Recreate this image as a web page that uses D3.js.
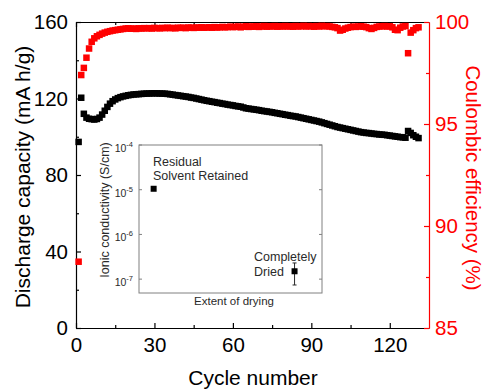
<!DOCTYPE html>
<html>
<head>
<meta charset="utf-8">
<script src="https://cdn.jsdelivr.net/npm/d3@7"></script>
<style>
  html, body { margin: 0; padding: 0; background: #fff; }
  svg { display: block; font-family: "Liberation Sans", Arial, sans-serif; }
</style>
</head>
<body>
<svg id="chart" width="484" height="390"></svg>
<script>
// Cycling data: discharge capacity (mA h/g) and coulombic efficiency (%) per cycle
const capacity = [
  97.3, 120.4, 112.0, 110.0, 109.4, 109.2, 109.0, 109.3, 110.0, 111.6,
  113.6, 115.6, 117.3, 118.6, 119.5, 120.2, 120.7, 121.1, 121.4, 121.7,
  121.9, 122.1, 122.2, 122.3, 122.4, 122.5, 122.6, 122.6, 122.7, 122.7,
  122.7, 122.6, 122.6, 122.5, 122.4, 122.2, 122.0, 121.8, 121.6, 121.4,
  121.2, 121.0, 120.8, 120.5, 120.3, 120.0, 119.7, 119.4, 119.1, 118.8,
  118.6, 118.3, 118.1, 117.8, 117.6, 117.3, 117.1, 116.8, 116.6, 116.4,
  116.1, 115.9, 115.7, 115.3, 114.9, 114.7, 114.5, 114.3, 114.1, 113.9,
  113.6, 113.4, 113.2, 113.0, 112.8, 112.5, 112.3, 112.0, 111.8, 111.5,
  111.3, 111.0, 110.8, 110.6, 110.3, 110.0, 109.7, 109.4, 109.1, 108.8,
  108.5, 108.2, 107.9, 107.5, 107.1, 106.7, 106.3, 105.9, 105.5, 105.1,
  104.8, 104.5, 104.2, 103.9, 103.6, 103.3, 103.0, 102.7, 102.4, 102.2,
  102.0, 101.9, 101.7, 101.5, 101.4, 101.2, 101.1, 101.0, 100.8, 100.6,
  100.4, 100.2, 100.0, 99.8, 99.7, 99.5, 103.0, 102.0, 100.8, 100.0,
  99.3
];
const efficiency = [
  88.25, 97.4, 97.75, 98.25, 98.7, 99.03, 99.2, 99.3, 99.37, 99.43,
  99.48, 99.52, 99.55, 99.58, 99.6, 99.62, 99.64, 99.66, 99.68, 99.69,
  99.67, 99.68, 99.66, 99.69, 99.68, 99.70, 99.69, 99.70, 99.68, 99.71,
  99.70, 99.69, 99.71, 99.70, 99.72, 99.70, 99.71, 99.69, 99.72, 99.71,
  99.72, 99.70, 99.73, 99.72, 99.71, 99.73, 99.72, 99.74, 99.72, 99.73,
  99.74, 99.72, 99.75, 99.73, 99.74, 99.76, 99.74, 99.75, 99.77, 99.75,
  99.76, 99.78, 99.74, 99.77, 99.79, 99.76, 99.78, 99.77, 99.79, 99.76,
  99.78, 99.80, 99.77, 99.79, 99.78, 99.80, 99.77, 99.79, 99.78, 99.80,
  99.78, 99.79, 99.77, 99.80, 99.78, 99.79, 99.81, 99.78, 99.80, 99.79,
  99.77, 99.80, 99.78, 99.81, 99.79, 99.80, 99.78, 99.76, 99.74, 99.70,
  99.58, 99.62, 99.68, 99.72, 99.75, 99.77, 99.76, 99.78, 99.79, 99.77,
  99.75, 99.70, 99.66, 99.71, 99.76, 99.78, 99.79, 99.80, 99.78, 99.79,
  99.74, 99.62, 99.60, 99.72, 99.78, 99.80, 98.47, 99.48, 99.60, 99.70,
  99.74
];
const cycles = capacity.map((_, i) => i + 1);

const cycleTicks = [0, 30, 60, 90, 120];
const cycleMinor = [15, 45, 75, 105];
const capTicks = [0, 40, 80, 120, 160];
const capMinor = [20, 60, 100, 140];
const ceTicks = [85, 90, 95, 100];
const ceMinor = [87.5, 92.5, 97.5];

// Inset: ionic conductivity vs extent of drying
const insetLabels = [["Residual", "Solvent Retained"], ["Completely", "Dried"]];
const insetExtent = [0.08, 0.85];
const insetConductivity = [1.05e-5, 1.5e-7];
const insetErrLow = [null, 7.4e-8];
const insetErrHigh = [null, 2.3e-7];
const insetTicks = [1e-4, 1e-5, 1e-6, 1e-7];

const svg = d3.select("#chart");
const L = 76, R = 429, T = 22, B = 328;
const RED = "#ff0000";

const x = d3.scaleLinear().domain([0, 135]).range([L, R]);
const yCap = d3.scaleLinear().domain([0, 160]).range([B, T]);
const yCE = d3.scaleLinear().domain([85, 100]).range([B, T]);

function styleAxis(g, color, fontSize) {
  g.select(".domain").attr("stroke", color).attr("stroke-width", 1.2);
  g.selectAll(".tick line").attr("stroke", color).attr("stroke-width", 1.2);
  g.selectAll(".tick text").attr("fill", color).style("font-size", fontSize + "px")
    .style("font-family", '"Liberation Sans", Arial, sans-serif');
}

// Bottom axis
const gb = svg.append("g").attr("transform", `translate(0,${B})`)
  .call(d3.axisBottom(x).tickValues(cycleTicks).tickSizeInner(-5).tickSizeOuter(0).tickPadding(9));
styleAxis(gb, "#000", 20.5);
const gbm = svg.append("g").attr("transform", `translate(0,${B})`)
  .call(d3.axisBottom(x).tickValues(cycleMinor).tickSizeInner(-3).tickSizeOuter(0).tickFormat(""));
styleAxis(gbm, "#000", 20);
gbm.select(".domain").remove();

// Top frame
const gt = svg.append("g").attr("transform", `translate(0,${T})`)
  .call(d3.axisTop(x).tickValues(cycleTicks).tickSizeInner(-5).tickSizeOuter(0).tickFormat(""));
styleAxis(gt, "#000", 20);
const gtm = svg.append("g").attr("transform", `translate(0,${T})`)
  .call(d3.axisTop(x).tickValues(cycleMinor).tickSizeInner(-3).tickSizeOuter(0).tickFormat(""));
styleAxis(gtm, "#000", 20);
gtm.select(".domain").remove();

// Left axis: discharge capacity
const gl = svg.append("g").attr("transform", `translate(${L},0)`)
  .call(d3.axisLeft(yCap).tickValues(capTicks).tickSizeInner(-5).tickSizeOuter(0).tickPadding(8));
styleAxis(gl, "#000", 20.5);
const glm = svg.append("g").attr("transform", `translate(${L},0)`)
  .call(d3.axisLeft(yCap).tickValues(capMinor).tickSizeInner(-3).tickSizeOuter(0).tickFormat(""));
styleAxis(glm, "#000", 20);
glm.select(".domain").remove();

// Right axis: coulombic efficiency
const gr = svg.append("g").attr("transform", `translate(${R},0)`)
  .call(d3.axisRight(yCE).tickValues(ceTicks).tickSizeInner(-5).tickSizeOuter(0).tickPadding(6));
styleAxis(gr, RED, 20.5);
const grm = svg.append("g").attr("transform", `translate(${R},0)`)
  .call(d3.axisRight(yCE).tickValues(ceMinor).tickSizeInner(-3).tickSizeOuter(0).tickFormat(""));
styleAxis(grm, RED, 20);
grm.select(".domain").remove();

// Axis titles
svg.append("text").attr("x", 253).attr("y", 385).attr("text-anchor", "middle")
  .style("font-size", "21px").attr("fill", "#000").text("Cycle number");
svg.append("text").attr("transform", "translate(30,177) rotate(-90)").attr("text-anchor", "middle")
  .style("font-size", "21px").attr("fill", "#000").text("Discharge capacity (mA h/g)");
svg.append("text").attr("transform", "translate(466,178) rotate(90)").attr("text-anchor", "middle")
  .style("font-size", "20.5px").attr("fill", RED).text("Coulombic efficiency (%)");

// Markers
const S = 6.5;
svg.append("g").selectAll("rect").data(cycles).join("rect")
  .attr("x", c => x(c) - S / 2).attr("y", (c, i) => yCap(capacity[i]) - S / 2)
  .attr("width", S).attr("height", S).attr("fill", "#000");
svg.append("g").selectAll("rect").data(cycles).join("rect")
  .attr("x", c => x(c) - S / 2).attr("y", (c, i) => yCE(efficiency[i]) - S / 2)
  .attr("width", S).attr("height", S).attr("fill", RED);

// Inset panel
const iL = 139, iR = 322, iT = 145, iB = 293;
const GREY = "#808080", INK = "#2a2a2a";
const ix = d3.scaleLinear().domain([0, 1]).range([iL, iR]);
const iy = d3.scaleLog().domain([Math.pow(10, -7.31), 1e-4]).range([iB, iT]);

const inset = svg.append("g");
inset.append("rect").attr("x", iL).attr("y", iT).attr("width", iR - iL).attr("height", iB - iT)
  .attr("fill", "#fff").attr("stroke", GREY).attr("stroke-width", 1);

// decade ticks on both sides
insetTicks.forEach(v => {
  const yy = iy(v);
  inset.append("line").attr("x1", iL).attr("x2", iL + 3).attr("y1", yy).attr("y2", yy)
    .attr("stroke", GREY).attr("stroke-width", 1);
  inset.append("line").attr("x1", iR - 3).attr("x2", iR).attr("y1", yy).attr("y2", yy)
    .attr("stroke", GREY).attr("stroke-width", 1);
  const t = inset.append("text").attr("x", iL - 6).attr("y", yy + 7).attr("text-anchor", "end")
    .attr("fill", INK).style("font-size", "10.5px");
  t.append("tspan").text("10");
  t.append("tspan").attr("dy", -5).style("font-size", "7.5px").text(String(Math.round(Math.log10(v))));
});

inset.append("text").attr("transform", "translate(109,210) rotate(-90)").attr("text-anchor", "middle")
  .attr("fill", INK).style("font-size", "12.5px").text("Ionic conductivity (S/cm)");
inset.append("text").attr("x", 234).attr("y", 305).attr("text-anchor", "middle")
  .attr("fill", INK).style("font-size", "11.5px").text("Extent of drying");

// error bars
insetExtent.forEach((e, i) => {
  if (insetErrLow[i] == null) return;
  const xx = ix(e);
  inset.append("line").attr("x1", xx).attr("x2", xx)
    .attr("y1", iy(insetErrLow[i])).attr("y2", iy(insetErrHigh[i])).attr("stroke", INK).attr("stroke-width", 1);
  [insetErrLow[i], insetErrHigh[i]].forEach(v => {
    inset.append("line").attr("x1", xx - 2).attr("x2", xx + 2).attr("y1", iy(v)).attr("y2", iy(v))
      .attr("stroke", INK).attr("stroke-width", 1);
  });
});
inset.selectAll("rect.pt").data(insetExtent).join("rect").attr("class", "pt")
  .attr("x", e => ix(e) - 3).attr("y", (e, i) => iy(insetConductivity[i]) - 3)
  .attr("width", 6).attr("height", 6).attr("fill", "#000");

// point annotations
const annot = [[153, 166, 180], [254, 261, 276]];
insetLabels.forEach((lines, i) => {
  lines.forEach((s, j) => {
    inset.append("text").attr("x", annot[i][0]).attr("y", annot[i][1 + j])
      .attr("fill", INK).style("font-size", "12.5px").text(s);
  });
});
</script>
</body>
</html>
